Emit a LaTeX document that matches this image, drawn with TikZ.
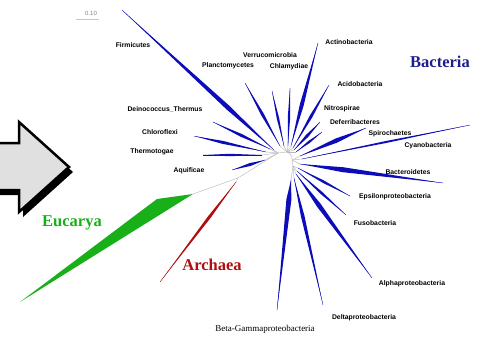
\documentclass[tikz,border=0pt]{standalone}
\usepackage{fontspec}
\setmainfont{Liberation Serif}
\setsansfont{Liberation Sans}
\usetikzlibrary{calc}
\definecolor{treeblue}{RGB}{12,12,185}
\definecolor{bactblue}{RGB}{30,30,140}
\definecolor{eucgreen}{RGB}{25,175,25}
\definecolor{archred}{RGB}{175,15,15}
\definecolor{arrowgray}{RGB}{224,224,224}
\tikzstyle{stem}=[draw=gray!55, line width=0.45pt]
\tikzstyle{taxon}=[inner sep=0pt, font=\sffamily\bfseries\fontsize{6.8}{8}\selectfont]
\tikzstyle{kingdom}=[inner sep=0pt, font=\bfseries\fontsize{16.5}{18}\selectfont]

% #1 colour, #2 hub, #3 start, #4 tip, #5 widest part, #6 half width
\newcommand{\limb}[6]{%
  \draw[stem] (#2) -- (#3);
  \coordinate (lm) at ($(#3)!#5!(#4)$);
  \fill[#1] (#3) -- ($(lm)!#6!90:(#4)$) -- (#4) -- ($(lm)!#6!-90:(#4)$) -- cycle;
  \draw[#1, line width=0.3pt] (#3) -- (#4);
}

\begin{document}
\begin{tikzpicture}[x=1pt,y=-1pt]

    \useasboundingbox (0,0) rectangle (483,343);

    % block arrow with shadow
    \fill[black, shift={(4,5)}] (-10,143) -- (19,143) -- (19,122) -- (69,167)
        -- (19,212) -- (19,190) -- (-10,190) -- cycle;
    \filldraw[fill=arrowgray, draw=black, line width=2.5pt]
        (-10,143) -- (19,143) -- (19,122) -- (69,167)
        -- (19,212) -- (19,190) -- (-10,190) -- cycle;

    % scale bar
    \draw[gray!45, line width=0.8pt] (76,19) -- (99,19);
    \node (Scale) at (91,13) [inner sep=0pt, text=gray,
        font=\sffamily\fontsize{6}{7}\selectfont] {0.10};

    % hubs
    \coordinate (hL) at (278,153);
    \coordinate (hT) at (287,152);
    \coordinate (hR) at (292,160);
    \coordinate (hB) at (293,166);
    \coordinate (root) at (238,178);
    \draw[stem] (hL) -- (hT) to[bend left=40] (hR) -- (hB);

    % Eucarya and Archaea
    \draw[stem] (hL) -- (root) -- (193,194);
    \fill[eucgreen] (20,302) -- (157,199) -- (193,194) -- cycle;
    \limb{archred}{root}{236,182}{160,282}{0.35}{1.5pt}

    % left group
    \limb{treeblue}{hL}{274,150}{122,10}{0.3}{2.3pt}
    \limb{treeblue}{hL}{270,149}{213,122}{0.5}{1.5pt}
    \limb{treeblue}{hL}{266,152}{194,136}{0.6}{1.5pt}
    \limb{treeblue}{hL}{262,155}{203,155}{0.55}{1.2pt}
    \limb{treeblue}{hL}{265,160}{232,170}{0.45}{1.5pt}

    % top group
    \limb{treeblue}{hT}{280,146}{245,83}{0.5}{1.5pt}
    \limb{treeblue}{hT}{284,146}{272,91}{0.5}{1.2pt}
    \limb{treeblue}{hT}{288,146}{290,88}{0.5}{1.2pt}
    \limb{treeblue}{hT}{291,146}{318,43}{0.4}{2pt}
    \limb{treeblue}{hT}{293,148}{329,85}{0.5}{1.5pt}
    \limb{treeblue}{hT}{294,150}{320,122}{0.5}{1.5pt}
    \limb{treeblue}{hT}{296,152}{322,132}{0.5}{1.2pt}

    % right group
    \limb{treeblue}{hR}{300,156}{366,128}{0.55}{2.2pt}
    \limb{treeblue}{hR}{302,159}{470,125}{0.5}{1pt}
    \limb{treeblue}{hR}{300,164}{443,183}{0.3}{2.5pt}

    % bottom group
    \limb{treeblue}{hB}{298,168}{350,196}{0.5}{1.3pt}
    \limb{treeblue}{hB}{297,171}{346,215}{0.5}{1.3pt}
    \limb{treeblue}{hB}{296,174}{372,278}{0.3}{2.3pt}
    \limb{treeblue}{hB}{294,178}{323,305}{0.3}{1.8pt}
    \limb{treeblue}{hB}{291,180}{277,310}{0.15}{2.5pt}

    % taxa
    \node (Firmicutes) at (133,45) [taxon] {Firmicutes};
    \node (Planctomycetes) at (228,66) [taxon] {Planctomycetes};
    \node (Verrucomicrobia) at (270,55) [taxon] {Verrucomicrobia};
    \node (Chlamydiae) at (289,67) [taxon] {Chlamydiae};
    \node (Actinobacteria) at (349,42) [taxon] {Actinobacteria};
    \node (Acidobacteria) at (360,84) [taxon] {Acidobacteria};
    \node (Nitrospirae) at (342,109) [taxon] {Nitrospirae};
    \node (Deferribacteres) at (355,122) [taxon] {Deferribacteres};
    \node (Spirochaetes) at (390,134) [taxon] {Spirochaetes};
    \node (Cyanobacteria) at (428,146) [taxon] {Cyanobacteria};
    \node (Bacteroidetes) at (408,172) [taxon] {Bacteroidetes};
    \node (Epsilon) at (395,197) [taxon] {Epsilonproteobacteria};
    \node (Fuso) at (375,223) [taxon] {Fusobacteria};
    \node (Alpha) at (412,284) [taxon] {Alphaproteobacteria};
    \node (Delta) at (364,318) [taxon] {Deltaproteobacteria};
    \node (BetaGamma) at (265,329) [inner sep=0pt,
        font=\fontsize{9}{10}\selectfont] {Beta-Gammaproteobacteria};
    \node (Deinococcus) at (165,109) [taxon] {Deinococcus\_Thermus};
    \node (Chloroflexi) at (160,132) [taxon] {Chloroflexi};
    \node (Thermotogae) at (152,152) [taxon] {Thermotogae};
    \node (Aquificae) at (189,171) [taxon] {Aquificae};

    % kingdoms
    \node (Bacteria) at (440,62) [kingdom, text=bactblue] {Bacteria};
    \node (Eucarya) at (72,223) [kingdom, text=eucgreen] {Eucarya};
    \node (Archaea) at (212,265) [kingdom, text=archred] {Archaea};

\end{tikzpicture}
\end{document}
